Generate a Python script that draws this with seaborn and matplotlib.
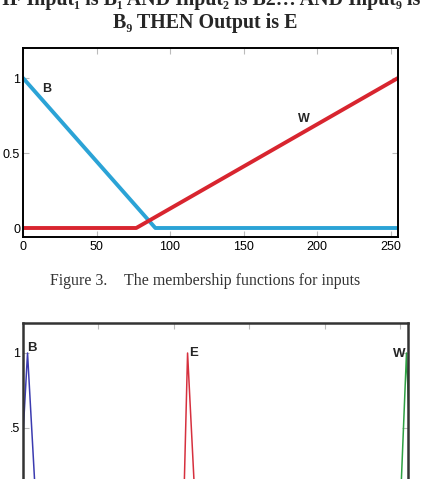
import matplotlib
matplotlib.use("Agg")
import matplotlib.pyplot as plt
import seaborn as sns

# input membership functions (Figure 3)
in_b_x = [0, 90, 255]
in_b_y = [1, 0, 0]
in_w_x = [0, 77, 255]
in_w_y = [0, 0, 1]
in_xticks = [0, 50, 100, 150, 200, 250]
in_yticks = [0, 0.5, 1]
in_ylabels = ["0", "0.5", "1"]

# output membership functions (triangles)
out_b_x = [-2.5, 3, 8.5]
out_e_x = [106.5, 109, 114]
out_w_x = [250, 254, 258]
out_tri_y = [0, 1, 0]
out_yticks = [0.5, 1]
out_ylabels = [".5", "1"]

sns.set_style("ticks")
plt.rcParams['font.family'] = ['Liberation Sans', 'DejaVu Sans']

W, H = 421, 479
fig = plt.figure(figsize=(W / 100, H / 100), dpi=100)


def box(l, t, r, b):
    return [l / W, 1 - b / H, (r - l) / W, (b - t) / H]


def style_axes(ax, spine_color, spine_w):
    for s in ax.spines.values():
        s.set_visible(True)
        s.set_color(spine_color)
        s.set_linewidth(spine_w)
    ax.tick_params(direction='in', length=4, width=0.8, color='#bbbbbb',
                   top=True, right=True, labelsize=9, labelcolor='black')


serif = ['Liberation Serif', 'DejaVu Serif']

# heading (cut off at the top of the page)
fig.text(2 / W, 1 - 5 / H, "IF Input\u2081 is B\u2081 AND Input\u2082 is B2\u2026 AND Input\u2089 is",
         family=serif, fontsize=14.4, fontweight='bold', ha='left', va='baseline')
fig.text(205 / W, 1 - 28 / H, "B\u2089 THEN Output is E",
         family=serif, fontsize=14.4, fontweight='bold', ha='center', va='baseline')

# top chart
ax1 = fig.add_axes(box(23, 48, 398, 237))
sns.lineplot(x=in_b_x, y=in_b_y, ax=ax1, color='#2ba3d6', linewidth=2.8)
sns.lineplot(x=in_w_x, y=in_w_y, ax=ax1, color='#d8252f', linewidth=2.8)
ax1.set_xlim(0, 255)
ax1.set_ylim(-0.06, 1.2)
ax1.set_xticks(in_xticks)
ax1.set_yticks(in_yticks)
ax1.set_yticklabels(in_ylabels)
style_axes(ax1, 'black', 1.4)
ax1.tick_params(axis='x', pad=3)
ax1.tick_params(axis='y', pad=2)
ax1.text(16, 0.93, "B", fontsize=9, fontweight='bold', ha='center', va='center')
ax1.text(191, 0.73, "W", fontsize=9, fontweight='bold', ha='center', va='center')

# caption
fig.text(50 / W, 1 - 285 / H, "Figure 3.", family=serif, fontsize=11.4,
         color='#333333', ha='left', va='baseline')
fig.text(124 / W, 1 - 285 / H, "The membership functions for inputs", family=serif,
         fontsize=11.4, color='#333333', ha='left', va='baseline')

# bottom chart (runs off the page)
ax2 = fig.add_axes(box(23, 323, 408, 512))
sns.lineplot(x=out_b_x, y=out_tri_y, ax=ax2, color='#3b3bb0', linewidth=1.1)
sns.lineplot(x=out_e_x, y=out_tri_y, ax=ax2, color='#d6303e', linewidth=1.1)
sns.lineplot(x=out_w_x, y=out_tri_y, ax=ax2, color='#2ea043', linewidth=1.1)
ax2.set_xlim(0, 255)
ax2.set_ylim(-0.06, 1.2)
ax2.set_xticks(in_xticks)
ax2.set_yticks(out_yticks)
ax2.set_yticklabels(out_ylabels)
style_axes(ax2, '#333333', 1.8)
ax2.tick_params(axis='y', pad=2)
ax2.tick_params(axis='x', labelbottom=False)
ax2.text(6, 1.03, "B", fontsize=9.5, fontweight='bold', ha='center', va='center')
ax2.text(113, 1.0, "E", fontsize=9.5, fontweight='bold', ha='center', va='center')
ax2.text(249, 0.99, "W", fontsize=9.5, fontweight='bold', ha='center', va='center')

fig.savefig("out.png", dpi=100)
